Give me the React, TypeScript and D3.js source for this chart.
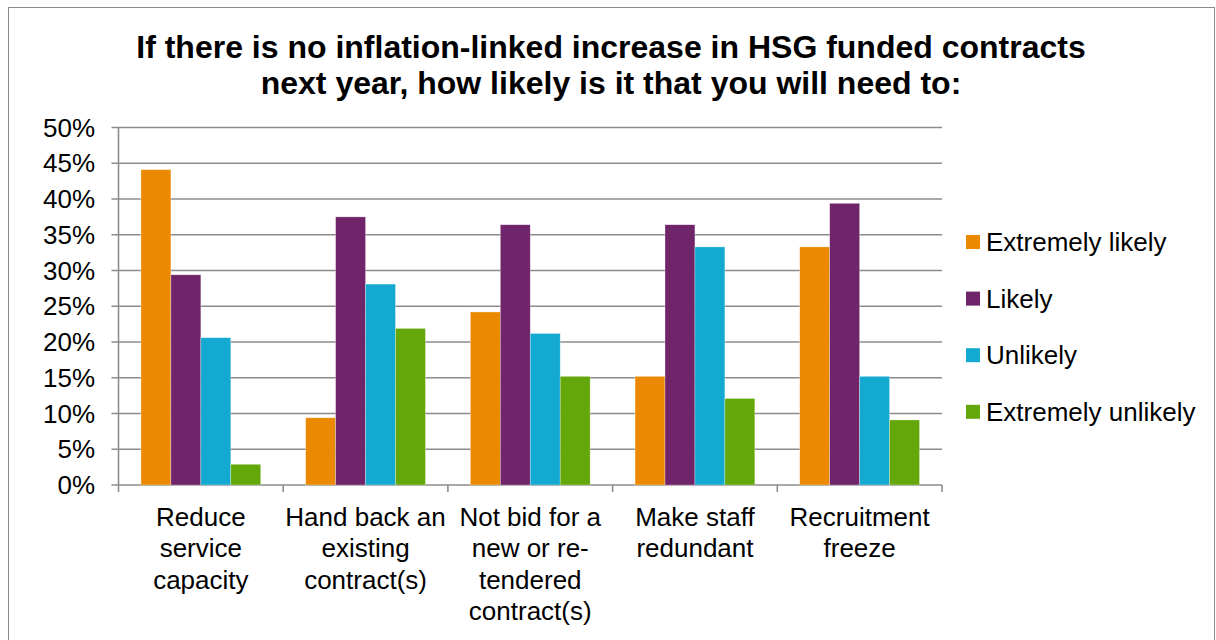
import React from "react";
import * as d3 from "d3";

const categories: string[][] = [
  ["Reduce", "service", "capacity"],
  ["Hand back an", "existing", "contract(s)"],
  ["Not bid for a", "new or re-", "tendered", "contract(s)"],
  ["Make staff", "redundant"],
  ["Recruitment", "freeze"],
];
const seriesNames = ["Extremely likely", "Likely", "Unlikely", "Extremely unlikely"];
const seriesColors = ["#EB8A00", "#70256A", "#14A9D0", "#64A70B"];
const extremelyLikely = [44.1, 9.4, 24.2, 15.2, 33.3];
const likely = [29.4, 37.5, 36.4, 36.4, 39.4];
const unlikely = [20.6, 28.1, 21.2, 33.3, 15.2];
const extremelyUnlikely = [2.9, 21.9, 15.2, 12.1, 9.1];
const yTicks = [0, 5, 10, 15, 20, 25, 30, 35, 40, 45, 50];
const titleLines = [
  "If there is no inflation-linked increase in HSG funded contracts",
  "next year, how likely is it that you will need to:",
];

const W = 1216;
const H = 640;
const left = 118.5;
const right = 942;
const top = 127.5;
const bottom = 485;
const font = "Arial, 'Liberation Sans', sans-serif";
const labelSize = 26;

export default function App() {
  const series = [extremelyLikely, likely, unlikely, extremelyUnlikely];
  const idx = categories.map((_, i) => String(i));
  const x0 = d3.scaleBand<string>().domain(idx).range([left, right]).paddingInner(0).paddingOuter(0);
  const y = d3.scaleLinear().domain([0, 50]).range([bottom, top]);
  const groupPad = (x0.bandwidth() * 1.5) / 5.5 / 2;
  const x1 = d3
    .scaleBand<string>()
    .domain(seriesNames)
    .range([groupPad, x0.bandwidth() - groupPad])
    .padding(0);
  const gridColor = "#8C8C8C";

  return (
    <svg
      width={W}
      height={H}
      style={{ position: "absolute", left: 0, top: 0, display: "block" }}
      fontFamily={font}
    >
      <rect x={0} y={0} width={W} height={H} fill="#fff" />
      <rect x={8.5} y={7.5} width={1206} height={640} fill="#fff" stroke="#8C8C8C" strokeWidth={1} />
      {titleLines.map((t, i) => (
        <text key={i} x={611} y={58 + i * 36} textAnchor="middle" fontSize={32} fontWeight="bold" fill="#000">
          {t}
        </text>
      ))}
      {yTicks.map((t) => (
        <g key={t}>
          <line x1={left - 7} x2={right} y1={y(t)} y2={y(t)} stroke={gridColor} strokeWidth={1.6} />
          <text x={95} y={y(t) + 9} textAnchor="end" fontSize={labelSize} fill="#000">
            {t}%
          </text>
        </g>
      ))}
      <line x1={left} x2={left} y1={top} y2={bottom} stroke={gridColor} strokeWidth={1.6} />
      {idx.concat([String(categories.length)]).map((k, i) => {
        const xx = i < categories.length ? (x0(k) as number) : right;
        return <line key={"t" + i} x1={xx} x2={xx} y1={bottom} y2={bottom + 7} stroke={gridColor} strokeWidth={1.6} />;
      })}
      {categories.map((_, ci) =>
        series.map((vals, si) => {
          const bx = (x0(String(ci)) as number) + (x1(seriesNames[si]) as number);
          return (
            <rect
              key={ci + "-" + si}
              x={bx}
              y={y(vals[ci])}
              width={x1.bandwidth()}
              height={bottom - y(vals[ci])}
              fill={seriesColors[si]}
              stroke="#fff"
              strokeOpacity={0.5}
              strokeWidth={0.6}
            />
          );
        })
      )}
      {categories.map((lines, ci) => (
        <text
          key={"c" + ci}
          x={(x0(String(ci)) as number) + x0.bandwidth() / 2}
          textAnchor="middle"
          fontSize={labelSize}
          fill="#000"
        >
          {lines.map((l, li) => (
            <tspan key={li} x={(x0(String(ci)) as number) + x0.bandwidth() / 2} y={526 + li * 31.3}>
              {l}
            </tspan>
          ))}
        </text>
      ))}
      {seriesNames.map((s, i) => (
        <g key={s}>
          <rect x={966} y={235 + i * 56.6} width={14} height={14} fill={seriesColors[i]} />
          <text x={986} y={251 + i * 56.6} fontSize={labelSize} fill="#000">
            {s}
          </text>
        </g>
      ))}
    </svg>
  );
}
